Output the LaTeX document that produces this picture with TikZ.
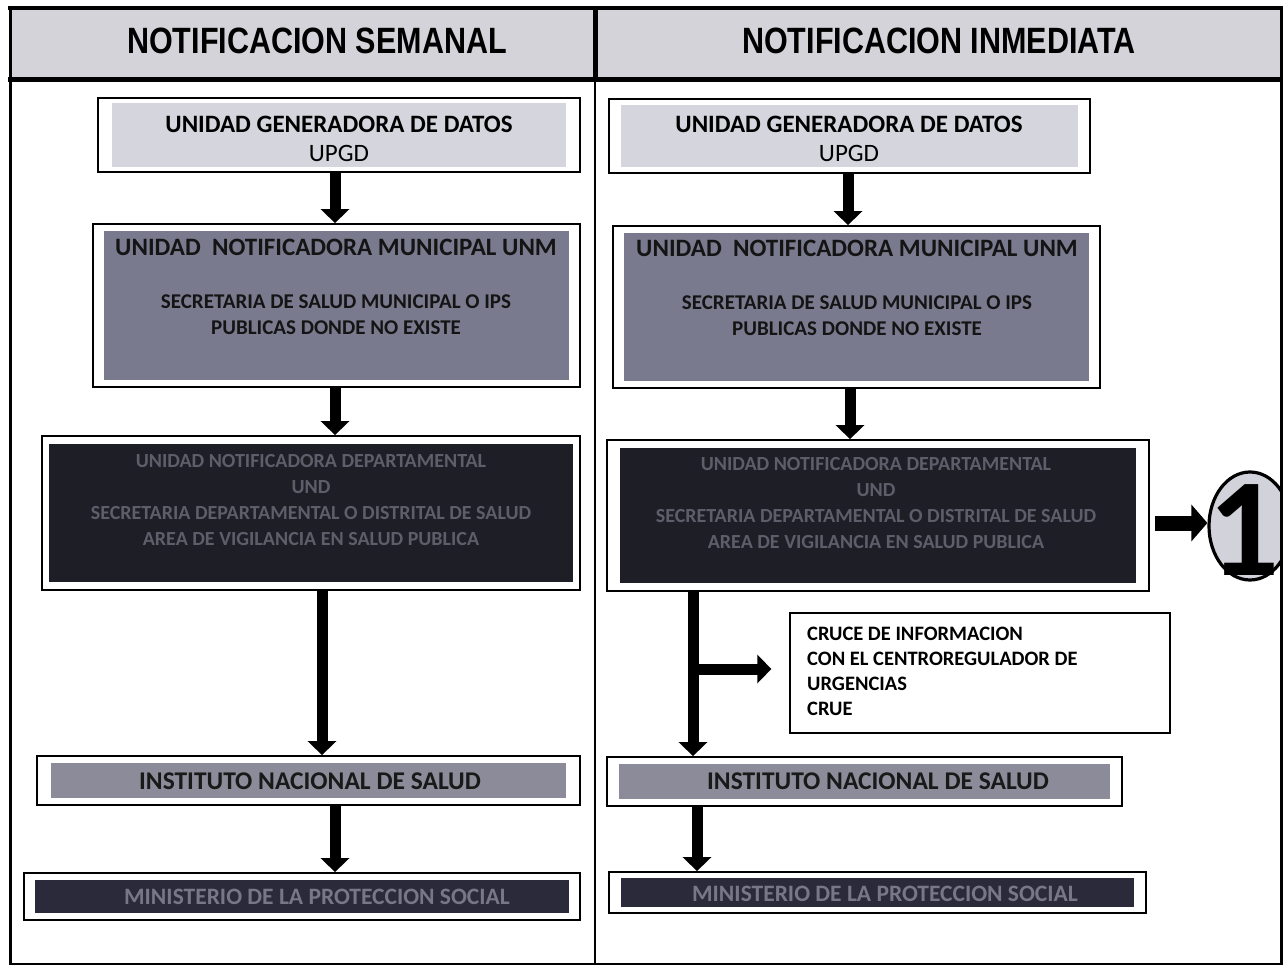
\documentclass[tikz,border=0pt]{standalone}
\usepackage{fontspec}
\setmainfont{Carlito}
\newfontfamily\hdrfont{Liberation Sans}
\usetikzlibrary{arrows.meta,fit,shapes.geometric}
\definecolor{hdrgray}{HTML}{D3D3D9}
\definecolor{cone}{HTML}{D5D5DD}
\definecolor{ctwo}{HTML}{7A7A8F}
\definecolor{cthree}{HTML}{1E1E27}
\definecolor{cthreetxt}{HTML}{5E5E6A}
\definecolor{cfour}{HTML}{8B8B99}
\definecolor{cfive}{HTML}{2A2A3A}
\definecolor{cfivetxt}{HTML}{777786}
\definecolor{circfill}{HTML}{D2D2DA}
\newcommand\myfs[2]{\fontsize{#1}{#2}\selectfont}
% name, x1, y1, x2, y2, inset x, inset y, fill colour
\newcommand\mkbox[8]{%
  \coordinate (#1-a) at (#2,#3);
  \coordinate (#1-b) at (#4,#5);
  \node[outerbox, fit=(#1-a)(#1-b)] (#1) {};
  \fill[#8] ([shift={(#6pt,-#7pt)}]#1.north west) rectangle ([shift={(-#6pt,#7pt)}]#1.south east);
}
\begin{document}
\begin{tikzpicture}[x=1pt,y=-1pt,
  outerbox/.style={draw=black, line width=1.8pt, inner sep=0pt, fill=white},
  fat/.style={line width=11pt, -{Triangle[width=28pt,length=14pt]}},
  lbl/.style={align=center, inner sep=0pt, text=black},
  hdr/.style={inner sep=0pt, font={\hdrfont\bfseries\myfs{30.5}{36}}},
  big/.style={lbl, font={\bfseries\myfs{25}{30}}},
  small/.style={lbl, font={\bfseries\myfs{21}{26}}},
  dept/.style={lbl, text=cthreetxt, font={\bfseries\myfs{20}{26}}},
]
\useasboundingbox (0,0) rectangle (1283,965);
\clip (0,0) rectangle (1283,965);
\fill[white] (0,0) rectangle (1283,965);

% header
\fill[hdrgray] (10,8) rectangle (1281,80);
\node[hdr] (h1) at (317,41) {\scalebox{1}[1.2]{NOTIFICACION SEMANAL}};
\node[hdr] (h2) at (939,41) {\scalebox{1}[1.2]{NOTIFICACION INMEDIATA}};

% ---------------- left column ----------------
\mkbox{l1}{98}{98}{580}{172}{15}{6}{cone}
\node[big] (l1t) at (339,124) {UNIDAD GENERADORA DE DATOS};
\node[lbl, font={\myfs{25}{30}}] (l1u) at (339,153) {UPGD};

\mkbox{l2}{93}{224}{580}{387}{12}{8}{ctwo}
\node[big, text=black!92] (l2t) at (336,247) {UNIDAD~~NOTIFICADORA MUNICIPAL UNM};
\node[small, text=black!92] (l2s) at (336,315) {SECRETARIA DE SALUD MUNICIPAL O IPS\\PUBLICAS DONDE NO EXISTE};

\mkbox{l3}{42}{436}{580}{590}{8}{9}{cthree}
\node[dept] (l3t) at (311,500) {UNIDAD NOTIFICADORA DEPARTAMENTAL\\UND\\SECRETARIA DEPARTAMENTAL O DISTRITAL DE SALUD\\AREA DE VIGILANCIA EN SALUD PUBLICA};

\mkbox{l4}{37}{756}{580}{805}{15}{8}{cfour}
\node[big, text=black!90, font={\bfseries\myfs{25.5}{28}}] (l4t) at (310,781) {INSTITUTO NACIONAL DE SALUD};

\mkbox{l5}{24}{873}{580}{920}{12}{8}{cfive}
\node[big, text=cfivetxt, font={\bfseries\myfs{23.5}{28}}] (l5t) at (317,897) {MINISTERIO DE LA PROTECCION SOCIAL};

\coordinate (la) at (335,0);
\coordinate (lb) at (322,0);
\draw[fat] (l1.south -| la) -- (l2.north -| la);
\draw[fat] (l2.south -| la) -- (l3.north -| la);
\draw[fat] (l3.south -| lb) -- (l4.north -| lb);
\draw[fat] (l4.south -| la) -- (l5.north -| la);

% ---------------- right column ----------------
\mkbox{r1}{609}{99}{1090}{173}{13}{7}{cone}
\node[big] (r1t) at (849,124) {UNIDAD GENERADORA DE DATOS};
\node[lbl, font={\myfs{25}{30}}] (r1u) at (849,153) {UPGD};

\mkbox{r2}{613}{226}{1100}{388}{12}{8}{ctwo}
\node[big, text=black!92] (r2t) at (857,248) {UNIDAD~~NOTIFICADORA MUNICIPAL UNM};
\node[small, text=black!92] (r2s) at (857,316) {SECRETARIA DE SALUD MUNICIPAL O IPS\\PUBLICAS DONDE NO EXISTE};

\mkbox{r3}{607}{440}{1149}{591}{14}{9}{cthree}
\node[dept] (r3t) at (876,503) {UNIDAD NOTIFICADORA DEPARTAMENTAL\\UND\\SECRETARIA DEPARTAMENTAL O DISTRITAL DE SALUD\\AREA DE VIGILANCIA EN SALUD PUBLICA};

\mkbox{r4}{607}{757}{1122}{806}{13}{8}{cfour}
\node[big, text=black!90, font={\bfseries\myfs{25.5}{28}}] (r4t) at (878,781) {INSTITUTO NACIONAL DE SALUD};

\mkbox{r5}{609}{872}{1146}{913}{13}{7}{cfive}
\node[big, text=cfivetxt, font={\bfseries\myfs{23.5}{28}}] (r5t) at (885,894) {MINISTERIO DE LA PROTECCION SOCIAL};

% CRUE box
\coordinate (crue-a) at (790,613);
\coordinate (crue-b) at (1170,733);
\node[draw=black, line width=1.3pt, fill=white, inner sep=0pt, fit=(crue-a)(crue-b)] (crue) {};
\node[anchor=north west, align=left, inner sep=0pt, font={\bfseries\myfs{20.5}{25}}] (cruet) at (807,627) {CRUCE DE INFORMACION\\CON EL CENTROREGULADOR DE\\URGENCIAS\\CRUE};

% circle 1
\node[ellipse, draw=black, line width=3.2pt, fill=circfill, minimum width=82pt, minimum height=108pt, inner sep=0pt] (one) at (1250,526) {};
\node[inner sep=0pt, font={\bfseries\myfs{140}{140}}] (onet) at (1244,530) {1};

\coordinate (ra) at (848,0);
\coordinate (rb) at (850,0);
\coordinate (rv) at (693,0);
\coordinate (rw) at (697,0);
\coordinate (br) at (693,669);
\coordinate (c1a) at (1155,523);
\draw[fat] (r1.south -| ra) -- (r2.north -| ra);
\draw[fat] (r2.south -| rb) -- (r3.north -| rb);
\draw[fat] (r3.south -| rv) -- (r4.north -| rv);
\draw[line width=11pt, -{Triangle[width=28pt,length=14pt]}] (br) -- ([xshift=-18pt]crue.west |- br);
\draw[fat] (r4.south -| rw) -- (r5.north -| rw);
\draw[line width=15pt, -{Triangle[width=36pt,length=16pt]}] (c1a) -- (one.west |- c1a);

% frame
\draw[line width=3pt] (10,8) -- (10,970);
\draw[line width=3pt] (1281,8) -- (1281,970);
\draw[line width=2.5pt] (10,964) -- (1281,964);
\draw[line width=4.5pt] (8,8) -- (1283,8);
\draw[line width=5pt] (8,80) -- (1283,80);
\draw[line width=5pt] (595,8) -- (595,80);
\draw[line width=2.5pt] (595,80) -- (595,970);
\end{tikzpicture}
\end{document}
